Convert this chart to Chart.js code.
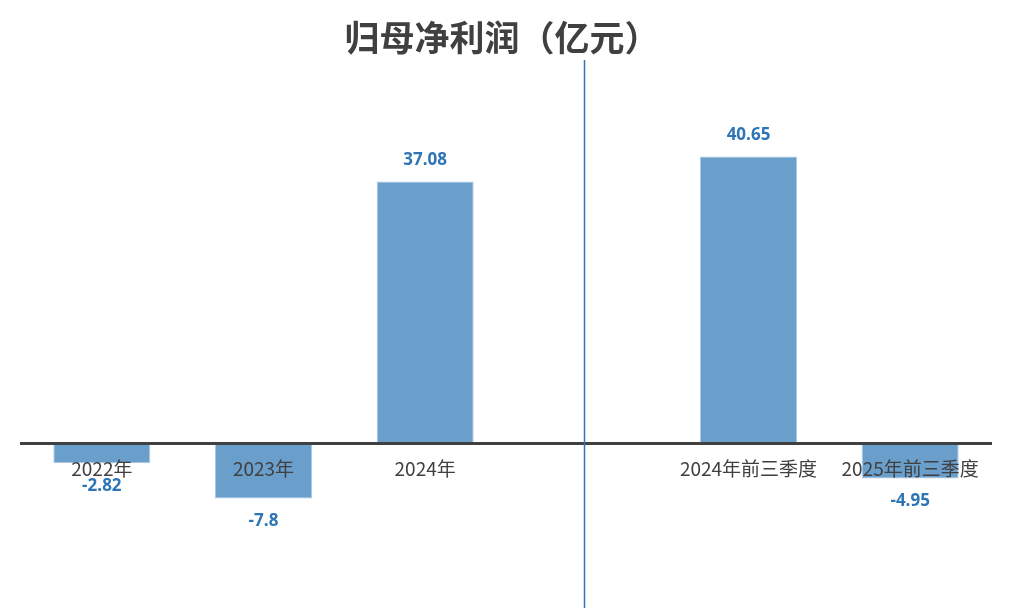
<!DOCTYPE html>
<html>
<head>
<meta charset="utf-8">
<script src="https://cdn.jsdelivr.net/npm/chart.js@4"></script>
<style>
  html, body { margin: 0; padding: 0; background: #ffffff; }
  #wrap { width: 1014px; height: 608px; position: relative; }
</style>
</head>
<body>
<div id="wrap"><canvas id="c" width="1014" height="608"></canvas></div>
<script>
const titleText = '归母净利润（亿元）';
const categories = ['2022年', '2023年', '2024年', '', '2024年前三季度', '2025年前三季度'];
const profitValues = [-2.82, -7.8, 37.08, null, 40.65, -4.95];
const yMin = -23.3;
const yMax = 54.3;
const dividerIndex = 3;

const titlePlugin = {
  id: 'customTitle',
  afterDraw(chart) {
    const ctx = chart.ctx;
    ctx.save();
    ctx.font = 'bold 35px "Noto Sans CJK SC", sans-serif';
    ctx.fillStyle = '#404040';
    ctx.textAlign = 'center';
    ctx.textBaseline = 'middle';
    ctx.fillText(titleText, 502, 38);
    ctx.restore();
  }
};

const labelPlugin = {
  id: 'valueLabels',
  afterDatasetsDraw(chart) {
    const ctx = chart.ctx;
    const meta = chart.getDatasetMeta(0);
    ctx.save();
    ctx.font = 'bold 17px "Open Sans", sans-serif';
    ctx.fillStyle = '#2e75b6';
    ctx.textAlign = 'center';
    ctx.textBaseline = 'middle';
    meta.data.forEach((el, i) => {
      const v = profitValues[i];
      if (v === null || v === undefined) return;
      const off = v >= 0 ? -21 : 23;
      ctx.fillText(String(v), el.x, el.y + off);
    });
    ctx.restore();
  }
};

const dividerPlugin = {
  id: 'divider',
  afterDraw(chart) {
    const ctx = chart.ctx;
    const x = Math.round(chart.scales.x.getPixelForValue(dividerIndex)) - 2.5;
    ctx.save();
    ctx.strokeStyle = '#2e75b6';
    ctx.lineWidth = 1.5;
    ctx.beginPath();
    ctx.moveTo(x, chart.chartArea.top);
    ctx.lineTo(x, chart.height);
    ctx.stroke();
    ctx.restore();
  }
};

new Chart(document.getElementById('c'), {
  type: 'bar',
  data: {
    labels: categories,
    datasets: [{
      data: profitValues,
      backgroundColor: '#6a9ecb',
      borderColor: '#a8c8e6',
      borderWidth: 1,
      barPercentage: 0.6,
      categoryPercentage: 1.0
    }]
  },
  options: {
    responsive: false,
    animation: false,
    devicePixelRatio: 1,
    layout: { padding: { top: 60, left: 21, right: 23, bottom: 0 } },
    plugins: {
      legend: { display: false },
      title: { display: false },
      tooltip: { enabled: false }
    },
    scales: {
      y: {
        display: false,
        min: yMin,
        max: yMax
      },
      x: {
        position: { y: 0 },
        afterFit(scale) { scale.height = 0; },
        grid: { display: false, drawTicks: false },
        border: { display: true, color: '#404040', width: 3, z: 1 },
        ticks: {
          z: 1,
          padding: 14,
          color: '#404040',
          font: { family: '"Noto Sans CJK SC", sans-serif', size: 19 },
          maxRotation: 0,
          autoSkip: false
        }
      }
    }
  },
  plugins: [titlePlugin, labelPlugin, dividerPlugin]
});
</script>
</body>
</html>
